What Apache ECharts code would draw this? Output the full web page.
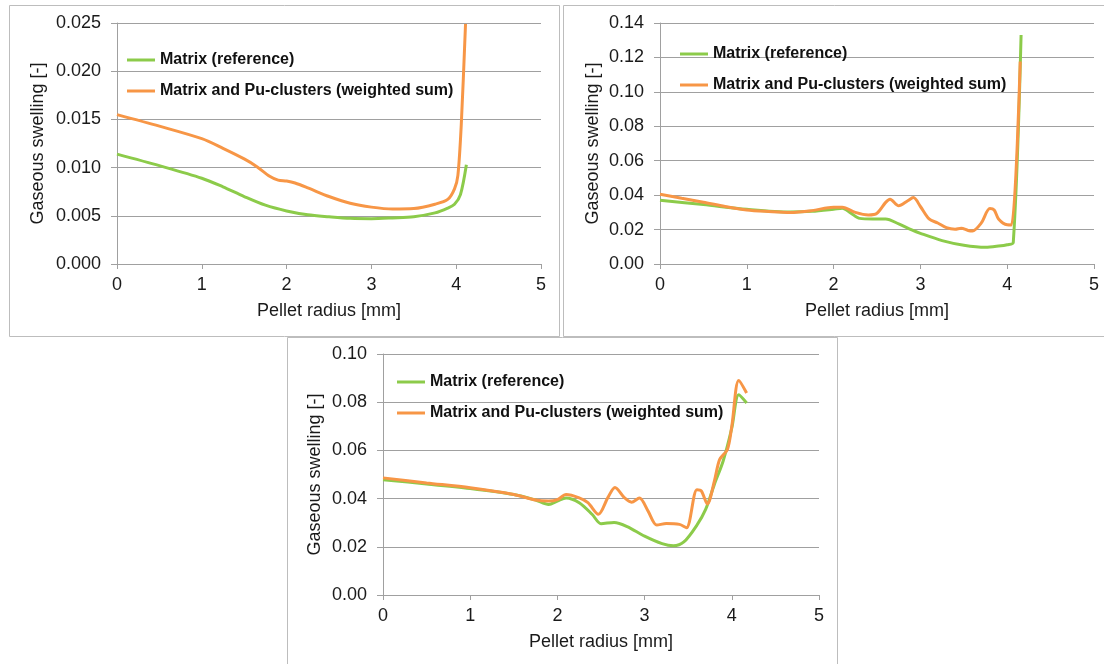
<!DOCTYPE html>
<html>
<head>
<meta charset="utf-8">
<script src="https://cdn.jsdelivr.net/npm/echarts@6/dist/echarts.min.js"></script>
<style>
html, body { margin: 0; padding: 0; background: #fff; }
#chart { width: 1104px; height: 664px; }
</style>
</head>
<body>
<div id="chart"></div>
<script>
// legend names
var seriesNames = ['Matrix (reference)', 'Matrix and Pu-clusters (weighted sum)'];
var xTicks = [0, 1, 2, 3, 4, 5];

// panel 1 (top left)
var r1Matrix = [0, 0.5, 1.0, 1.25, 1.5, 1.75, 2.0, 2.25, 2.5, 2.75, 3.0, 3.25, 3.5, 3.75, 3.9, 3.98, 4.05, 4.12];
var v1Matrix = [0.0114, 0.0102, 0.0089, 0.0080, 0.0070, 0.0061, 0.0055, 0.0051, 0.0049, 0.00474, 0.0047, 0.00478, 0.0049, 0.0053, 0.0058, 0.0062, 0.0072, 0.0103];
var r1Pu = [0, 0.5, 1.0, 1.25, 1.5, 1.65, 1.8, 1.9, 2.0, 2.1, 2.25, 2.5, 2.75, 3.0, 3.25, 3.5, 3.75, 3.9, 3.98, 4.02, 4.06, 4.11];
var v1Pu = [0.0155, 0.0143, 0.0130, 0.0120, 0.0109, 0.0101, 0.0091, 0.0087, 0.0086, 0.0084, 0.0079, 0.0070, 0.0063, 0.0059, 0.0057, 0.00575, 0.0062, 0.0067, 0.0078, 0.0092, 0.0145, 0.0249];

// panel 2 (top right)
var r2Matrix = [0, 0.5, 1.0, 1.5, 1.75, 2.0, 2.1, 2.2, 2.3, 2.45, 2.6, 2.75, 2.9, 3.0, 3.25, 3.5, 3.75, 3.9, 4.0, 4.07, 4.16];
var v2Matrix = [0.0370, 0.0345, 0.0318, 0.0302, 0.0306, 0.0318, 0.0324, 0.0295, 0.0265, 0.0262, 0.0262, 0.0233, 0.0198, 0.0178, 0.0136, 0.0109, 0.0097, 0.0104, 0.0112, 0.0125, 0.133];
var r2Pu = [0, 0.25, 0.5, 0.75, 1.0, 1.25, 1.5, 1.75, 2.0, 2.1, 2.25, 2.4, 2.5, 2.6, 2.65, 2.75, 2.85, 2.92, 3.0, 3.1, 3.2, 3.3, 3.4, 3.47, 3.55, 3.6, 3.7, 3.8, 3.85, 3.9, 4.0, 4.05, 4.15];
var v2Pu = [0.0405, 0.0382, 0.0359, 0.0334, 0.0314, 0.0305, 0.0299, 0.0310, 0.0330, 0.0330, 0.0300, 0.0285, 0.0295, 0.0358, 0.0376, 0.0338, 0.0366, 0.0386, 0.0334, 0.0262, 0.0238, 0.0211, 0.0202, 0.0208, 0.0195, 0.0192, 0.0237, 0.0322, 0.0314, 0.0262, 0.0228, 0.0227, 0.1176];

// panel 3 (bottom)
var r3Matrix = [0, 0.5, 1.0, 1.5, 1.75, 1.9, 2.0, 2.1, 2.25, 2.4, 2.5, 2.65, 2.8, 3.0, 3.2, 3.33, 3.45, 3.6, 3.7, 3.8, 3.9, 4.0, 4.08, 4.17];
var v3Matrix = [0.0478, 0.0461, 0.0442, 0.0417, 0.0394, 0.0376, 0.0390, 0.0403, 0.0383, 0.0334, 0.0296, 0.0301, 0.0284, 0.0244, 0.0213, 0.0204, 0.0220, 0.0290, 0.0355, 0.0459, 0.0555, 0.0693, 0.0831, 0.0797];
var r3Pu = [0, 0.5, 1.0, 1.5, 1.75, 1.9, 2.0, 2.1, 2.25, 2.35, 2.47, 2.58, 2.66, 2.77, 2.85, 2.94, 3.04, 3.14, 3.25, 3.4, 3.48, 3.6, 3.65, 3.72, 3.8, 3.86, 3.95, 4.0, 4.08, 4.17];
var v3Pu = [0.0486, 0.0465, 0.0445, 0.0417, 0.0394, 0.0390, 0.0396, 0.0417, 0.0403, 0.0383, 0.0335, 0.0405, 0.0446, 0.0403, 0.0385, 0.0402, 0.0348, 0.0290, 0.0297, 0.0293, 0.0279, 0.0437, 0.0432, 0.0378, 0.0472, 0.0562, 0.0604, 0.0700, 0.0890, 0.0838];

var green = '#8ccb4a';
var orange = '#f79646';
var gridGray = '#a0a0a0';
var font = '"Liberation Sans", Arial, sans-serif';

function zip(xs, ys) {
    return xs.map(function (x, i) { return [x, ys[i]]; });
}

function makeX(idx) {
    return {
        gridIndex: idx,
        type: 'value',
        min: xTicks[0],
        max: xTicks[xTicks.length - 1],
        interval: 1,
        name: 'Pellet radius [mm]',
        nameLocation: 'middle',
        nameGap: 38,
        nameTextStyle: { fontFamily: font, fontSize: 18, color: '#1a1a1a' },
        axisLine: { show: true, lineStyle: { color: gridGray, width: 1 } },
        axisTick: { show: true, length: 5, lineStyle: { color: gridGray } },
        axisLabel: { margin: 12, fontFamily: font, fontSize: 18, color: '#1a1a1a' },
        splitLine: { show: false }
    };
}

function makeY(idx, max, step, digits, gap) {
    return {
        gridIndex: idx,
        type: 'value',
        min: 0,
        max: max,
        interval: step,
        name: 'Gaseous swelling [-]',
        nameLocation: 'middle',
        nameGap: gap,
        nameTextStyle: { fontFamily: font, fontSize: 18, color: '#1a1a1a' },
        axisLine: { show: true, lineStyle: { color: gridGray, width: 1 } },
        axisTick: { show: true, length: 6, lineStyle: { color: gridGray } },
        axisLabel: {
            margin: 16, fontFamily: font, fontSize: 18, color: '#1a1a1a',
            formatter: function (v) { return v.toFixed(digits); }
        },
        splitLine: { show: true, lineStyle: { color: gridGray, width: 1 } }
    };
}

function makeSeries(idx, name, color, data) {
    return {
        type: 'line',
        name: name,
        xAxisIndex: idx,
        yAxisIndex: idx,
        data: data,
        color: color,
        smooth: 0.3,
        symbol: 'none',
        lineStyle: { color: color, width: 3 },
        animation: false
    };
}

function makeLegend(left, top) {
    return {
        orient: 'vertical',
        left: left,
        top: top,
        icon: 'rect',
        itemWidth: 28,
        itemHeight: 3,
        itemGap: 15,
        data: seriesNames,
        textStyle: { fontFamily: font, fontSize: 16, fontWeight: 'bold', color: '#111', lineHeight: 16 }
    };
}

var chart = echarts.init(document.getElementById('chart'));

var option = {
    backgroundColor: '#fff',
    animation: false,
    grid: [
        { left: 117, top: 23, width: 424, height: 241 },
        { left: 660, top: 23, width: 434, height: 241 },
        { left: 383, top: 354, width: 436, height: 241 }
    ],
    xAxis: [makeX(0), makeX(1), makeX(2)],
    yAxis: [
        makeY(0, 0.025, 0.005, 3, 70),
        makeY(1, 0.14, 0.02, 2, 58),
        makeY(2, 0.10, 0.02, 2, 59)
    ],
    legend: [
        makeLegend(122, 47),
        makeLegend(675, 41),
        makeLegend(392, 369)
    ],
    series: [
        makeSeries(0, seriesNames[0], green, zip(r1Matrix, v1Matrix)),
        makeSeries(0, seriesNames[1], orange, zip(r1Pu, v1Pu)),
        makeSeries(1, seriesNames[0], green, zip(r2Matrix, v2Matrix)),
        makeSeries(1, seriesNames[1], orange, zip(r2Pu, v2Pu)),
        makeSeries(2, seriesNames[0], green, zip(r3Matrix, v3Matrix)),
        makeSeries(2, seriesNames[1], orange, zip(r3Pu, v3Pu))
    ],
    graphic: [
        { type: 'rect', shape: { x: 9.5, y: 5.5, width: 550, height: 331 }, style: { fill: 'none', stroke: '#bdbdbd', lineWidth: 1 }, z: -1 },
        { type: 'rect', shape: { x: 563.5, y: 5.5, width: 560, height: 331 }, style: { fill: 'none', stroke: '#bdbdbd', lineWidth: 1 }, z: -1 },
        { type: 'rect', shape: { x: 287.5, y: 337.5, width: 550, height: 340 }, style: { fill: 'none', stroke: '#bdbdbd', lineWidth: 1 }, z: -1 }
    ]
};

chart.setOption(option);
</script>
</body>
</html>
